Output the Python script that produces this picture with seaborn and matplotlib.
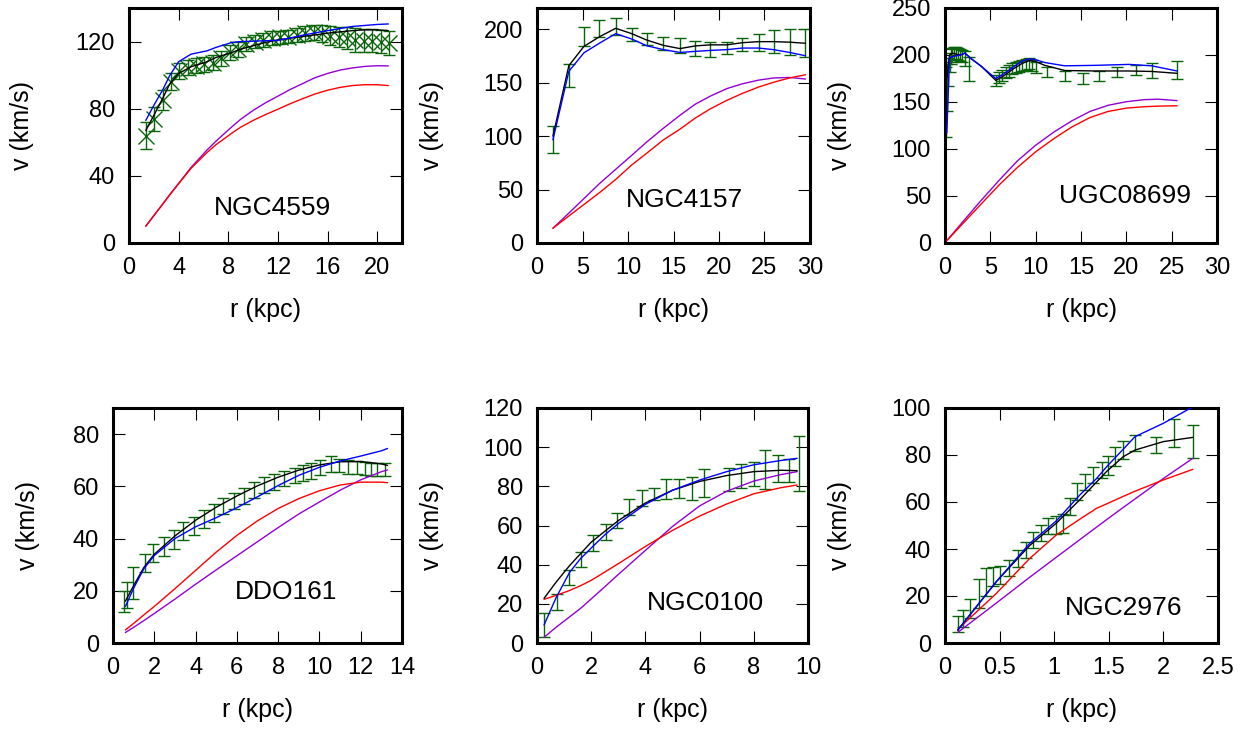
import matplotlib
matplotlib.use('Agg')
import matplotlib.pyplot as plt
import seaborn as sns

# ---- NGC4559 ----
r_4559 = [1.35, 2.03, 2.70, 3.38, 4.05, 4.73, 5.41, 6.08, 6.76, 7.43, 8.11, 8.79, 9.46, 10.14, 10.81,
          11.49, 12.16, 12.84, 13.52, 14.19, 14.87, 15.54, 16.22, 16.90, 17.57, 18.25, 18.92, 19.60, 20.27, 20.95]
v_4559 = [64, 74, 85, 96, 102.5, 104.5, 105.5, 106.5, 107.5, 110, 113.5, 115.5, 118.5, 120, 121,
          122, 122.5, 123, 124, 125, 125.5, 125, 123.5, 122.5, 122, 121, 120.5, 120.5, 120, 119]
e_4559 = [8, 7, 6, 5, 5, 4.5, 4.5, 4.5, 4.5, 4.5, 4.5, 4.5, 4, 4, 4,
          4, 4, 4, 4, 4.5, 4.5, 5, 5.5, 6, 6.5, 7, 7, 7, 7, 7]
rm_4559 = [1.35, 2, 2.7, 3.3, 4, 5, 6.3, 7, 8.3, 9, 10, 11, 12, 13, 14, 15, 16, 17, 18, 19, 20, 20.9]
tot_4559 = [67, 76, 86, 95, 101, 105, 108, 110.5, 113.5, 115.5, 117.5, 119.5, 121, 122, 123, 124,
            125, 125.8, 126.5, 127, 127, 126.5]
blue_4559 = [73, 82, 91, 100, 108, 112.5, 114.5, 116.5, 119.5, 120, 120.2, 120.5, 120.7, 122.2, 123.8,
             125.2, 126.5, 127.8, 129, 129.6, 130.2, 130.5]
purp_4559 = [10, 16.3, 23, 29, 35.5, 45, 55.5, 60.6, 69.3, 73.7, 79, 83.5, 87.5, 91.5, 95, 98.5, 101,
             103, 104.3, 105.2, 105.6, 105.5]
red_4559 = [10, 16.3, 23, 28.8, 35.3, 44.5, 54, 58.5, 65.5, 69, 73, 76.5, 79.7, 83, 86, 88.8, 91,
            92.7, 93.8, 94.3, 94.3, 93.8]

# ---- NGC4157 ----
r_4157 = [1.75, 3.5, 5.15, 6.85, 8.65, 10.4, 12.05, 13.9, 15.7, 17.4, 19.05, 20.85, 22.55, 24.35, 26.0, 27.75, 29.5]
v_4157 = [97, 157, 193, 201, 203, 195, 191, 187, 184.5, 182.5, 181.5, 182.5, 185.5, 188, 188.5, 188, 187]
e_4157 = [12.5, 10.5, 9, 8, 8, 6, 6, 6, 7, 7, 7, 6, 6, 8, 11, 12, 13]
rm_4157 = r_4157
tot_4157 = [100, 166, 184, 193, 201, 196, 190, 185, 182, 184.5, 185.5, 185.5, 187.5, 188.5, 188.5, 188, 187]
blue_4157 = [96.6, 160.7, 178, 187, 196, 191, 184.7, 181, 178.4, 179.4, 180.3, 181, 182.5, 182.5, 181, 178.4, 175.3]
purp_4157 = [13.8, 28, 41.5, 55.5, 69, 82, 94.5, 107.5, 119.5, 130, 137.5, 144.5, 149, 152.5, 154.5, 155, 153.5]
red_4157 = [13.8, 25.3, 36, 47, 59.5, 73, 84, 96.6, 106.5, 117, 125.6, 133.5, 140, 146, 150.5, 154.5, 157.5]

# ---- UGC08699 ----
r_8699 = [0.1, 0.2, 0.35, 0.5, 0.65, 0.8, 1.0, 1.2, 1.4, 1.6, 1.85, 2.2, 2.7, 5.6, 5.95, 6.3, 6.7,
          7.05, 7.4, 7.8, 8.2, 8.5, 8.9, 9.3, 9.6, 10.0, 11.3, 13.2, 15.2, 17.0, 19.0, 21.1, 22.8, 25.6]
v_8699 = [150, 165, 182, 192, 198, 200, 202, 202, 201, 200, 199, 196, 185, 173, 176, 178.5, 181,
          183, 185.5, 187, 188, 189, 190, 191, 189, 187, 182, 177.5, 175, 177.5, 182, 184, 183, 184]
e_8699 = [37, 25, 15, 10, 8, 7, 6, 6, 6, 6, 6, 8, 13, 6, 6, 6, 6,
          6, 6, 6, 6, 6, 6, 6, 6, 6, 5, 5, 6, 5, 5, 5, 8, 10]
rm_8699 = [0.2, 0.5, 0.8, 1.2, 1.7, 2.2, 2.9, 4.0, 5.6, 6.5, 7.5, 8.5, 9.3, 10.0, 11.0, 13.2, 16.6, 20.3, 22.8, 25.6]
tot_8699 = [175, 200, 202, 201, 200, 202, 196, 188, 173, 178, 185, 191, 194, 193, 189, 183.5, 183, 183, 182.5, 180.5]
blue_8699 = [117, 197, 198, 199, 200, 202, 196, 188, 175, 180, 187, 193.5, 196, 195, 192, 188.5, 189, 190, 188.5, 183]
rs_8699 = [0.2, 2, 4, 6, 8, 10, 12, 14, 16, 18, 20, 22, 23.5, 25.6]
purp_8699 = [2.5, 23, 45.5, 67, 87.5, 104, 118, 130, 140, 146.5, 150.3, 152.5, 153, 151.5]
red_8699 = [2.5, 21, 41.6, 62, 80.5, 97, 111, 123.5, 133.5, 140, 143.5, 145, 145.6, 146]

# ---- DDO161 ----
r_161 = [0.55, 0.7, 0.98, 1.55, 1.95, 2.45, 2.95, 3.4, 3.9, 4.4, 4.9, 5.35, 5.85, 6.35, 6.85,
         7.3, 7.8, 8.3, 8.8, 9.2, 9.6, 10.05, 10.55, 10.95, 11.4, 11.8, 12.2, 12.5, 12.8, 13.2]
v_161 = [16, 18.5, 23, 30.6, 34.5, 37, 39.6, 42.8, 44.7, 47.6, 49.9, 52.4, 54.3, 56.3, 58.6,
         60.4, 61.7, 63, 64.2, 65, 65.9, 67.2, 68.5, 67.8, 67.4, 67.2, 67, 66.6, 66.3, 66.3]
e_161 = [4, 5, 6, 3.5, 3.5, 3.5, 3.5, 3.5, 3.5, 3.5, 3.5, 3, 3, 3, 3,
         3, 3, 3, 3, 3, 3, 3, 3, 2.5, 2.5, 2.5, 2.5, 2.5, 2.5, 2.5]
rm_161 = [0.6, 1, 1.5, 2, 3, 4, 5, 6, 7, 8, 9, 10, 11, 12, 13, 13.3]
tot_161 = [16, 22, 29, 34, 41, 47, 52, 56.3, 60.2, 63.5, 66.2, 68.2, 69.4, 69.5, 68.6, 68]
blue_161 = [14, 21, 28.5, 33.5, 40, 44.5, 48, 51.8, 56, 60.3, 64.2, 67.3, 69.7, 71.6, 73.6, 74.5]
purp_161 = [4, 6, 8.6, 11.3, 16.8, 22.5, 28, 33.4, 38.8, 44.2, 49.4, 54, 58.5, 62.5, 65.6, 66.3]
red_161 = [5, 7.5, 10.8, 14, 20.8, 27.8, 34.8, 41.2, 46.8, 51.5, 55.3, 58.3, 60.5, 61.6, 61.6, 61.4]

# ---- NGC0100 ----
r_0100 = [0.26, 0.72, 1.17, 1.61, 2.07, 2.53, 2.96, 3.41, 3.87, 4.33, 4.76, 5.25, 5.71, 6.17,
          7.08, 7.51, 8.0, 8.43, 8.89, 9.31, 9.65]
v_0100 = [9.2, 21.1, 33.4, 42.7, 51.2, 56.8, 62.5, 69.3, 73.9, 75.9, 78.5, 79, 79, 81.6,
          83.6, 85.3, 86.3, 88.4, 89.2, 88, 91.8]
e_0100 = [6, 4, 4, 4, 4, 4, 4, 4, 4, 3, 5, 5, 6, 7, 6, 6, 6, 10, 7, 6, 14]
rm_0100 = [0.26, 0.7, 1.2, 1.6, 2.0, 2.5, 3.0, 4.0, 5.0, 6.0, 7.0, 8.0, 9.0, 9.6]
tot_0100 = [22.8, 31, 39.5, 45.5, 51.5, 57, 62.5, 71.5, 78, 82.5, 85.5, 87.5, 88.2, 88]
blue_0100 = [9.2, 23, 36, 43, 48.5, 55.2, 61, 70.8, 78, 83.2, 87.5, 91, 93.2, 94.3]
purp_0100 = [2.9, 8, 13.3, 17.6, 22.5, 28.7, 35, 47.3, 59.5, 70, 77.5, 82.7, 86, 87.5]
red_0100 = [22.3, 24.3, 26.8, 29.2, 32, 36.2, 40.5, 49.3, 57.5, 64.8, 71, 76.2, 79.3, 80.7]

# ---- NGC2976 ----
r_2976 = [0.117, 0.163, 0.23, 0.31, 0.378, 0.44, 0.5, 0.59, 0.67, 0.745, 0.806, 0.883, 0.944, 1.015,
          1.08, 1.143, 1.205, 1.28, 1.357, 1.435, 1.495, 1.557, 1.628, 1.74, 1.93, 2.1, 2.27]
v_2976 = [8.1, 10.5, 14.8, 21.1, 26.1, 28.2, 28.9, 31.8, 36, 39.6, 43.8, 46.7, 49.8, 50.2,
          50.9, 58, 64.4, 68.6, 71.5, 73.6, 75.7, 79.3, 82.1, 85, 84.3, 89.2, 85.7]
e_2976 = [3.5, 3.5, 4, 6, 6, 4, 4, 3.5, 3.5, 3.5, 3.5, 3.5, 3.5, 4,
          4, 3.5, 3.5, 3.5, 3.5, 3.5, 4, 4, 4, 3.5, 3.5, 6, 7]
rm_2976 = [0.117, 0.47, 0.776, 1.02, 1.235, 1.388, 1.48, 1.633, 1.74, 2.0, 2.27]
tot_2976 = [5.5, 26.1, 41.5, 51, 61, 68.5, 73, 79.3, 82.1, 85.7, 87.5]
blue_2976 = [5.5, 26.1, 42.4, 52, 63, 70, 75, 82.5, 87.8, 93.5, 100.5]
purp_2976 = [4.5, 17, 28, 36.5, 44, 49.3, 52.5, 57.7, 61.3, 70, 78.6]
red_2976 = [5.8, 21.1, 36, 46, 52.7, 57.3, 59.2, 62.4, 64.6, 69.4, 73.9]

names = ['NGC4559', 'NGC4157', 'UGC08699', 'DDO161', 'NGC0100', 'NGC2976']
xlims = [(0, 22), (0, 30), (0, 30), (0, 14), (0, 10), (0, 2.5)]
ylims = [(0, 140), (0, 220), (0, 250), (0, 90), (0, 120), (0, 100)]
xticks = [[0, 4, 8, 12, 16, 20], [0, 5, 10, 15, 20, 25, 30], [0, 5, 10, 15, 20, 25, 30],
          [0, 2, 4, 6, 8, 10, 12, 14], [0, 2, 4, 6, 8, 10], [0, 0.5, 1, 1.5, 2, 2.5]]
xticklabels = [None, None, None, None, None, ['0', '0.5', '1', '1.5', '2', '2.5']]
yticks = [[0, 40, 80, 120], [0, 50, 100, 150, 200], [0, 50, 100, 150, 200, 250],
          [0, 20, 40, 60, 80], [0, 20, 40, 60, 80, 100, 120], [0, 20, 40, 60, 80, 100]]

obs = [(r_4559, v_4559, e_4559), (r_4157, v_4157, e_4157), (r_8699, v_8699, e_8699),
       (r_161, v_161, e_161), (r_0100, v_0100, e_0100), (r_2976, v_2976, e_2976)]
# (grid for black/blue, black, blue, grid for purple/red, purple, red)
models = [(rm_4559, tot_4559, blue_4559, rm_4559, purp_4559, red_4559),
          (rm_4157, tot_4157, blue_4157, rm_4157, purp_4157, red_4157),
          (rm_8699, tot_8699, blue_8699, rs_8699, purp_8699, red_8699),
          (rm_161, tot_161, blue_161, rm_161, purp_161, red_161),
          (rm_0100, tot_0100, blue_0100, rm_0100, purp_0100, red_0100),
          (rm_2976, tot_2976, blue_2976, rm_2976, purp_2976, red_2976)]

sns.set_theme(style='ticks')
plt.rcParams['font.family'] = ['Liberation Sans', 'DejaVu Sans']
plt.rcParams['text.color'] = 'black'
plt.rcParams['axes.labelcolor'] = 'black'

fig = plt.figure(figsize=(12.6, 7.29), dpi=100)

# axes boxes in pixels: left, top, right, bottom
boxes = [(129, 8, 402, 243), (537, 8, 810, 243), (945, 8, 1217, 243),
         (113, 408, 402, 643), (537, 408, 808, 643), (945, 408, 1218, 643)]
ylab_x = [22, 432, 840, 28, 432, 840]
name_pos = [(0.527, 0.149), (0.54, 0.183), (0.66, 0.2), (0.60, 0.218), (0.62, 0.169), (0.653, 0.148)]

W, H = 1260, 729
green = '#0a640a'
for i in range(6):
    l, t, r, b = boxes[i]
    ax = fig.add_axes([l / W, 1 - b / H, (r - l) / W, (b - t) / H])
    rr, vv, ee = obs[i]
    if i == 0:
        ax.errorbar(rr, vv, yerr=ee, fmt='x', color=green, ms=11, mew=1,
                    ecolor=green, elinewidth=1, capsize=4.5, capthick=1, zorder=2)
    else:
        ax.errorbar(rr, vv, yerr=ee, fmt='none', ecolor=green, elinewidth=1,
                    capsize=4.5, capthick=1, zorder=2)
    rm, tot, blue, rs, purp, red = models[i]
    sns.lineplot(x=rs, y=purp, ax=ax, color='#9400d3', lw=1, zorder=3)
    sns.lineplot(x=rs, y=red, ax=ax, color='#ff0000', lw=1, zorder=3)
    sns.lineplot(x=rm, y=tot, ax=ax, color='black', lw=1, zorder=3)
    sns.lineplot(x=rm, y=blue, ax=ax, color='#0000ff', lw=1, zorder=3)

    ax.set_xlim(*xlims[i])
    ax.set_ylim(*ylims[i])
    ax.set_xticks(xticks[i])
    if xticklabels[i] is not None:
        ax.set_xticklabels(xticklabels[i])
    ax.set_yticks(yticks[i])
    ax.tick_params(direction='in', length=8.5, width=0.8, top=True, right=True,
                   labelsize=17, pad=10, colors='black')
    for s in ax.spines.values():
        s.set_linewidth(2.2)
        s.set_color('black')
    ax.set_xlabel('r (kpc)', fontsize=18, va='center')
    ax.set_ylabel('v (km/s)', fontsize=18, va='center')
    ax.xaxis.set_label_coords(0.5, -67 / 235)
    ax.yaxis.set_label_coords((ylab_x[i] - l) / (r - l), 0.5)
    ax.text(name_pos[i][0], name_pos[i][1], names[i], transform=ax.transAxes,
            ha='center', va='center', fontsize=19, color='black')

fig.savefig('out.png', dpi=100)
